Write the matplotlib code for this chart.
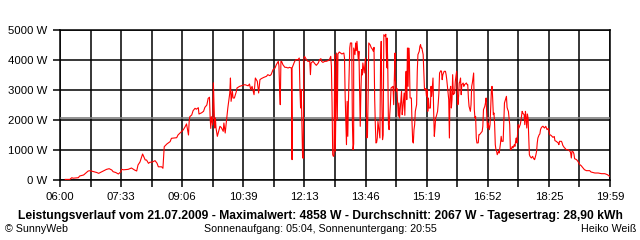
import numpy as np
import matplotlib
matplotlib.use('Agg')
import matplotlib.pyplot as plt

# minutes since midnight, power in W (21.07.2009)
minutes = [368, 375, 378, 380, 388, 390, 396, 400, 403, 406, 411, 416, 419, 424, 427, 431, 435, 439, 441, 445,
           449, 453, 454, 457, 464, 469, 474, 477, 479, 482, 486, 490, 492, 495, 497, 501, 505, 508, 510, 515,
           517, 519, 523, 528, 530, 538, 540, 546, 548, 551, 553, 556, 557, 558, 561, 563, 566, 568, 571, 572,
           576, 579, 581, 584, 586, 588, 589, 590, 591, 593, 594, 596, 597, 598, 600, 602, 604, 606, 609, 610,
           612, 615, 616, 619, 620, 621, 623, 624, 626, 629, 630, 634, 639, 642, 647, 649, 651, 653, 656, 658,
           661, 663, 665, 667, 671, 675, 677, 680, 682, 685, 688, 690, 693, 694, 695, 696, 697, 698, 700, 703,
           705, 708, 710, 713, 714, 714, 718, 720, 723, 725, 726, 727, 728, 730, 731, 732, 733, 736, 738, 741,
           742, 743, 746, 749, 751, 754, 756, 758, 759, 761, 764, 766, 769, 771, 773, 774, 775, 776, 777, 778,
           779, 780, 782, 783, 784, 786, 788, 790, 793, 794, 795, 797, 798, 799, 800, 802, 803, 805, 806, 807,
           808, 808, 810, 811, 812, 813, 815, 816, 817, 818, 819, 820, 821, 822, 824, 826, 827, 828, 829, 830,
           831, 833, 835, 836, 838, 839, 840, 841, 842, 843, 844, 845, 847, 848, 849, 850, 851, 852, 853, 854,
           856, 857, 858, 859, 859, 860, 861, 862, 863, 864, 865, 868, 869, 871, 871, 873, 874, 876, 877, 878,
           880, 881, 882, 883, 885, 886, 887, 888, 889, 890, 891, 892, 893, 894, 896, 897, 898, 899, 900, 901,
           902, 904, 905, 906, 908, 909, 910, 911, 912, 914, 915, 916, 918, 919, 920, 921, 922, 923, 925, 926,
           927, 929, 930, 931, 932, 933, 934, 936, 937, 938, 939, 941, 942, 943, 944, 946, 948, 949, 950, 952,
           953, 954, 955, 956, 957, 958, 959, 960, 962, 963, 965, 966, 967, 968, 969, 970, 971, 972, 973, 975,
           976, 977, 980, 981, 982, 983, 984, 986, 987, 988, 989, 990, 991, 992, 993, 994, 995, 996, 998, 999,
           1000, 1002, 1004, 1005, 1006, 1008, 1009, 1010, 1011, 1012, 1013, 1014, 1015, 1016, 1017, 1018, 1019, 1020, 1021, 1022,
           1023, 1024, 1025, 1026, 1027, 1028, 1029, 1030, 1031, 1032, 1033, 1034, 1036, 1037, 1038, 1039, 1041, 1042, 1043, 1044,
           1045, 1046, 1047, 1048, 1050, 1051, 1053, 1054, 1055, 1056, 1057, 1059, 1060, 1061, 1062, 1063, 1065, 1066, 1067, 1068,
           1069, 1070, 1071, 1072, 1073, 1074, 1075, 1076, 1077, 1079, 1081, 1082, 1083, 1084, 1086, 1087, 1088, 1089, 1091, 1092,
           1093, 1094, 1096, 1097, 1098, 1099, 1101, 1102, 1103, 1105, 1107, 1109, 1112, 1114, 1115, 1117, 1120, 1121, 1122, 1125,
           1126, 1127, 1129, 1131, 1132, 1135, 1138, 1139, 1140, 1141, 1143, 1144, 1145, 1148, 1150, 1153, 1155, 1158, 1160, 1163,
           1168, 1170, 1176, 1181, 1186, 1191, 1195, 1197, 1199]
power = [20, 20, 77, 60, 77, 133, 167, 243, 300, 310, 280, 250, 222, 277, 310, 355, 377, 333, 277, 250,
         200, 277, 355, 340, 355, 400, 330, 300, 500, 600, 867, 667, 667, 555, 590, 600, 645, 560, 440, 440,
         390, 1110, 1200, 1280, 1390, 1410, 1500, 1630, 1670, 1780, 1870, 1500, 1940, 2110, 2170, 2310, 2390, 2360, 2410, 2200,
         2240, 2290, 2420, 2500, 2720, 2760, 2110, 1720, 2110, 1830, 3240, 1733, 2067, 1733, 1455, 1622, 1789, 1750, 1622, 1900,
         1566, 2178, 2400, 2900, 3400, 2622, 2955, 2733, 2733, 2950, 3067, 3122, 3155, 3178, 3140, 3200, 3011, 3122, 2844, 3400,
         3289, 2900, 3344, 3378, 3422, 3456, 3511, 3478, 3511, 3678, 3733, 3844, 3956, 3800, 3011, 2511, 3956, 3956, 3844, 3756,
         3756, 3733, 3756, 3733, 678, 3733, 3956, 4011, 4011, 4067, 3011, 2400, 3011, 789, 722, 4067, 4122, 4011, 3956, 3956,
         3511, 3900, 3956, 3870, 3822, 3900, 4011, 4044, 3956, 3920, 3956, 3956, 3978, 4011, 4122, 3789, 2567, 844, 789, 820,
         4178, 956, 4233, 2000, 4200, 4267, 4233, 4200, 4233, 4067, 2789, 1178, 2622, 1456, 2600, 4400, 4567, 4567, 1956, 1011,
         1200, 4400, 4178, 4567, 4311, 4622, 4011, 4289, 2956, 1789, 2956, 3678, 3500, 3900, 3567, 4067, 3122, 1400, 1450, 2733,
         4567, 4511, 4400, 4380, 4289, 4422, 2733, 1844, 1233, 1250, 1400, 1956, 1600, 1400, 3956, 4622, 2622, 1344, 1500, 4844,
         4790, 4858, 4067, 3733, 4733, 3844, 1844, 1678, 2178, 2511, 3067, 3122, 2511, 4233, 3511, 2956, 3050, 2122, 2567, 2067,
         2678, 2956, 2178, 2400, 2900, 2156, 3122, 3622, 2678, 4400, 3122, 4400, 3956, 2733, 2733, 1900, 1289, 1233, 1678, 1844,
         2289, 2511, 3622, 4178, 4289, 4456, 4511, 4400, 4400, 4178, 3622, 3011, 3050, 2789, 3011, 2289, 2733, 2400, 2400, 3122,
         2789, 3400, 2289, 1456, 1733, 2067, 2120, 2289, 2567, 2900, 3567, 3644, 3620, 3344, 3511, 3622, 3622, 3511, 3344, 2900,
         2678, 1400, 3011, 3122, 2400, 2678, 3511, 2844, 2900, 3289, 3622, 3011, 2511, 2789, 3233, 3280, 3400, 2844, 3178, 3233,
         3122, 3178, 3233, 3178, 3178, 2733, 2455, 2289, 2511, 3122, 3233, 3400, 3567, 2344, 2067, 2120, 1400, 1233, 1240, 1511,
         1511, 1567, 1622, 1789, 2344, 2455, 2567, 2733, 2178, 1733, 1900, 1800, 1678, 1844, 2400, 2956, 3122, 2733, 2178, 2233,
         1844, 1178, 1011, 956, 844, 900, 956, 900, 1067, 1233, 1456, 1289, 1289, 1956, 2567, 2644, 2789, 2422, 2344, 2289,
         2067, 1844, 1011, 1011, 1122, 1067, 1178, 1122, 1289, 1400, 1233, 1844, 1733, 1789, 1844, 1956, 2289, 2233, 2200, 2178,
         1844, 2289, 2067, 1733, 2200, 2067, 1400, 844, 789, 733, 789, 733, 700, 678, 844, 955, 1233, 1400, 1511, 1533,
         1678, 1733, 1789, 1789, 1756, 1733, 1789, 1733, 1678, 1720, 1511, 1489, 1422, 1450, 1311, 1289, 1233, 1178, 1289, 1289,
         1233, 1156, 1089, 1044, 1011, 1011, 956, 900, 733, 956, 933, 867, 711, 678, 622, 511, 478, 400, 344, 311,
         311, 267, 233, 233, 211, 211, 178, 144, 122]

average = 2067
tick_labels = ['06:00', '07:33', '09:06', '10:39', '12:13', '13:46', '15:19', '16:52', '18:25', '19:59']
y_ticks = [0, 1000, 2000, 3000, 4000, 5000]

plt.rcParams['font.family'] = 'Liberation Sans'

fig = plt.figure(figsize=(6.4, 2.4), dpi=100)
ax = fig.add_axes([60/640, 60/240, 550/640, 150/240])

ax.plot(minutes, power, color='#ff0000', lw=0.8, zorder=4)
ax.axhline(average, color='#808080', lw=1.2, zorder=3)

ax.set_xlim(360, 1199)
ax.set_ylim(0, 5000)
ticks = np.linspace(360, 1199, 19)
ax.set_xticks(ticks)
ax.set_xticklabels([tick_labels[i // 2] if i % 2 == 0 else '' for i in range(19)])
ax.set_yticks(y_ticks)
ax.set_yticklabels(['%d W' % v for v in y_ticks])
ax.tick_params(direction='out', length=5, width=1.1, colors='black', labelsize=8.2, pad=4)
ax.grid(True, color='black', lw=1.1, zorder=1)
for s in ax.spines.values():
    s.set_color('black')
    s.set_linewidth(1.1)

fig.text(320/640, 1 - 216/240, 'Leistungsverlauf vom 21.07.2009 - Maximalwert: 4858 W - Durchschnitt: 2067 W - Tagesertrag: 28,90 kWh',
         ha='center', va='center', fontsize=8.7, fontweight='bold')
fig.text(5/640, 1 - 229/240, '\u00a9 SunnyWeb', ha='left', va='center', fontsize=7.7)
fig.text(320/640, 1 - 229/240, 'Sonnenaufgang: 05:04, Sonnenuntergang: 20:55', ha='center', va='center', fontsize=7.7)
fig.text(636/640, 1 - 229/240, 'Heiko Wei\u00df', ha='right', va='center', fontsize=7.7)

fig.savefig('out.png', dpi=100)
